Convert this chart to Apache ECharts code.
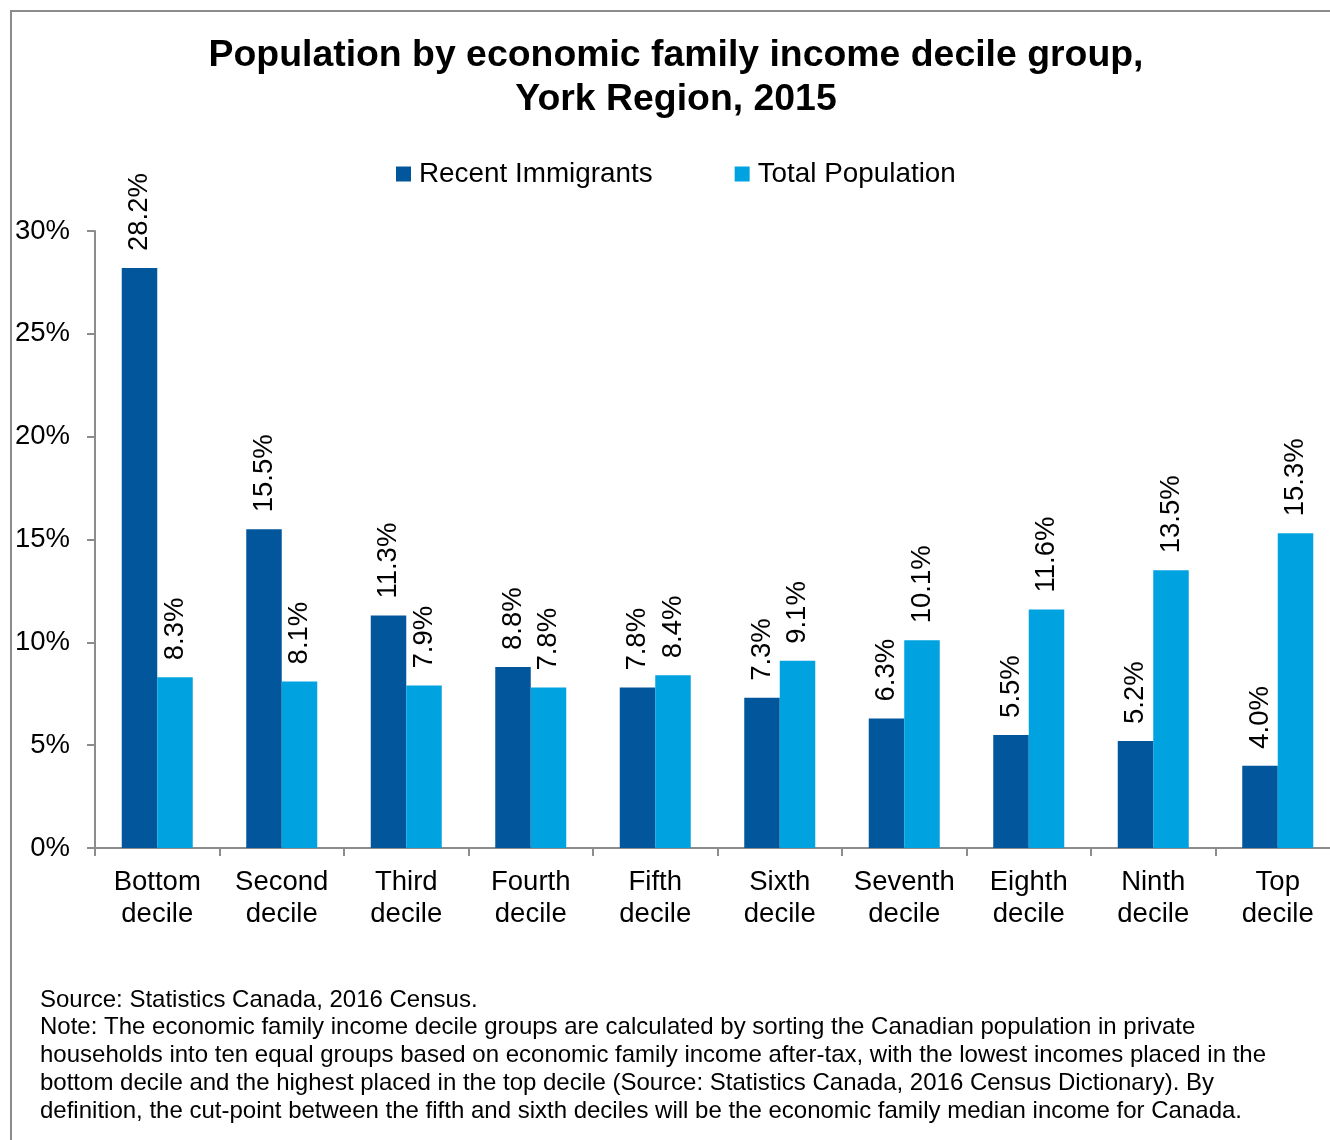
<!DOCTYPE html>
<html>
<head>
<meta charset="utf-8">
<title>Population by economic family income decile group, York Region, 2015</title>
<script src="https://cdn.jsdelivr.net/npm/echarts@6/dist/echarts.min.js"></script>
<style>
  html, body { margin: 0; padding: 0; background: #fff; }
  #chart { width: 1330px; height: 1140px; }
</style>
</head>
<body>
<div id="chart"></div>
<script>
// Income decile groups (x axis)
const categories = [
  'Bottom\ndecile', 'Second\ndecile', 'Third\ndecile', 'Fourth\ndecile', 'Fifth\ndecile',
  'Sixth\ndecile', 'Seventh\ndecile', 'Eighth\ndecile', 'Ninth\ndecile', 'Top\ndecile'
];

// Share of population in each decile, percent
const recentImmigrants = [28.2, 15.5, 11.3, 8.8, 7.8, 7.3, 6.3, 5.5, 5.2, 4.0];
const totalPopulation  = [8.3, 8.1, 7.9, 7.8, 8.4, 9.1, 10.1, 11.6, 13.5, 15.3];

const seriesNames = ['Recent Immigrants', 'Total Population'];

const titleLines = [
  'Population by economic family income decile group,',
  'York Region, 2015'
];

const noteLines = [
  'Source: Statistics Canada, 2016 Census.',
  'Note: The economic family income decile groups are calculated by sorting the Canadian population in private',
  'households into ten equal groups based on economic family income after-tax, with the lowest incomes placed in the',
  'bottom decile and the highest placed in the top decile (Source: Statistics Canada, 2016 Census Dictionary). By',
  'definition, the cut-point between the fifth and sixth deciles will be the economic family median income for Canada.'
];

const FONT = '"Liberation Sans", Arial, Helvetica, sans-serif';
const AXIS_GREY = '#8c8c8c';
const COLORS = ['#02569B', '#00A2DF'];

const chart = echarts.init(document.getElementById('chart'), null, { renderer: 'canvas' });

function barSeries(name, values, color) {
  return {
    name: name,
    type: 'bar',
    data: values,
    barWidth: 35.5,
    barGap: '0%',
    itemStyle: { color: color },
    label: {
      show: true,
      position: 'top',
      distance: 17,
      rotate: 90,
      align: 'left',
      verticalAlign: 'middle',
      color: '#000',
      fontFamily: FONT,
      fontSize: 27.5,
      formatter: p => p.value.toFixed(1) + '%'
    }
  };
}

chart.setOption({
  animation: false,
  backgroundColor: '#fff',
  textStyle: { fontFamily: FONT },
  title: {
    text: titleLines.join('\n'),
    left: 671,
    top: 29,
    textAlign: 'center',
    textStyle: {
      fontFamily: FONT,
      fontSize: 37.4,
      fontWeight: 'bold',
      lineHeight: 44,
      color: '#000'
    }
  },
  legend: {
    data: seriesNames,
    left: 396,
    top: 159,
    padding: 0,
    itemWidth: 15,
    itemHeight: 15,
    itemGap: 82,
    icon: 'rect',
    textStyle: {
      fontFamily: FONT,
      fontSize: 27.85,
      color: '#000',
      lineHeight: 30,
      padding: [0, 0, 0, 3]
    }
  },
  grid: {
    left: 95,
    width: 1245,
    top: 231,
    bottom: 292,
    containLabel: false,
    outerBoundsMode: 'none'
  },
  xAxis: {
    type: 'category',
    data: categories,
    boundaryGap: true,
    axisLine: { lineStyle: { color: AXIS_GREY, width: 2 } },
    axisTick: { show: true, length: 8, alignWithLabel: false, lineStyle: { color: AXIS_GREY, width: 2 } },
    axisLabel: {
      interval: 0,
      margin: 18,
      color: '#000',
      fontFamily: FONT,
      fontSize: 27.5,
      lineHeight: 32
    },
    splitLine: { show: false }
  },
  yAxis: {
    type: 'value',
    min: 0,
    max: 30,
    interval: 5,
    axisLine: { show: true, lineStyle: { color: AXIS_GREY, width: 2 } },
    axisTick: { show: true, length: 8, lineStyle: { color: AXIS_GREY, width: 2 } },
    axisLabel: {
      margin: 25,
      color: '#000',
      fontFamily: FONT,
      fontSize: 27.5,
      formatter: v => v + '%'
    },
    splitLine: { show: false }
  },
  graphic: [
    {
      type: 'rect',
      silent: true,
      z: -1,
      shape: { x: 11, y: 11, width: 1400, height: 1200 },
      style: { fill: 'none', stroke: AXIS_GREY, lineWidth: 2 }
    },
    {
      type: 'text',
      left: 40,
      top: 986,
      style: {
        text: noteLines.join('\n'),
        fontFamily: FONT,
        fontSize: 24,
        lineHeight: 27.75,
        fill: '#000'
      }
    }
  ],
  series: [
    barSeries(seriesNames[0], recentImmigrants, COLORS[0]),
    barSeries(seriesNames[1], totalPopulation, COLORS[1])
  ]
});
</script>
</body>
</html>
